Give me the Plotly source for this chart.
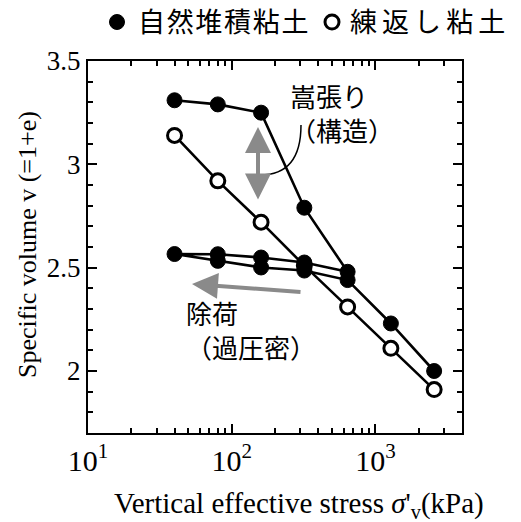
import plotly.graph_objects as go

# Consolidation test results: vertical effective stress (kPa) vs specific volume v = 1 + e
# Natural (undisturbed) clay: loading, unloading to 40 kPa, reloading and further loading
natural_stress = [40, 80, 160, 320, 640, 320, 160, 80, 40, 80, 160, 320, 640, 1280, 2560]
natural_v = [3.31, 3.29, 3.25, 2.79, 2.48, 2.525, 2.549, 2.565, 2.566,
             2.533, 2.501, 2.486, 2.44, 2.23, 2.00]

# Remoulded clay: loading only
remoulded_stress = [40, 80, 160, 320, 640, 1280, 2560]
remoulded_v = [3.14, 2.92, 2.72, 2.51, 2.31, 2.11, 1.91]

natural_name = "自然堆積粘土"
remoulded_name = "練返し粘土"

x_tickvals = [10, 100, 1000]
x_ticktext = ["10<sup>1</sup>", "10<sup>2</sup>", "10<sup>3</sup>"]
x_minor = [20, 30, 40, 50, 60, 70, 80, 90, 200, 300, 400, 500, 600, 700, 800, 900, 2000, 3000]
y_tickvals = [2, 2.5, 3, 3.5]
y_ticktext = ["2", "2.5", "3", "3.5"]

x_title = "Vertical effective stress <i>σ</i>'<sub>v</sub>(kPa)"
y_title = "Specific volume v (=1+e)"

SERIF = "Liberation Serif"
CJK = "Noto Sans CJK JP"
GRAY = "#8a8a8a"


def spaced(text, gap):
    """Loosen the character pitch of a key label."""
    return gap.join(text)


fig = go.Figure()

fig.add_trace(go.Scatter(
    x=remoulded_stress, y=remoulded_v, mode="lines+markers", name=remoulded_name,
    line=dict(color="black", width=2.6),
    marker=dict(symbol="circle", size=14, color="white", line=dict(color="black", width=3)),
    showlegend=False,
))
fig.add_trace(go.Scatter(
    x=natural_stress, y=natural_v, mode="lines+markers", name=natural_name,
    line=dict(color="black", width=2.6),
    marker=dict(symbol="circle", size=15, color="black", line=dict(color="black", width=1)),
    showlegend=False,
))

W, H = 521, 522
ML, MR, MT, MB = 88, 59, 61, 89
PW, PH = W - ML - MR, H - MT - MB


def px(xp):
    return (xp - ML) / PW


def py(yp):
    return (H - MB - yp) / PH


annotations = [
    dict(text="嵩張り<br>（構造）", x=px(288), y=py(112), xanchor="left",
         yanchor="middle", align="left", font=dict(family=CJK, size=26, color="black")),
    dict(text="除荷<br>（過圧密）", x=px(184), y=py(329), xanchor="left",
         yanchor="middle", align="left", font=dict(family=CJK, size=26, color="black")),
    # key labels along the top
    dict(text=spaced(natural_name, "\u200a"), x=px(136), y=py(20),
         xanchor="left", yanchor="middle", font=dict(family=CJK, size=27, color="black")),
    dict(text=spaced(remoulded_name, "\u200a\u200a\u200a"), x=px(348), y=py(20),
         xanchor="left", yanchor="middle", font=dict(family=CJK, size=27, color="black")),
]
for a in annotations:
    a.update(xref="paper", yref="paper", showarrow=False)

# axis titles
annotations.append(dict(
    text=x_title, x=px(299), y=py(505), xref="paper", yref="paper",
    xanchor="center", yanchor="middle", showarrow=False,
    font=dict(family=SERIF, size=29, color="black"),
))
annotations.append(dict(
    text=y_title, x=px(27), y=py(245), xref="paper", yref="paper",
    xanchor="center", yanchor="middle", showarrow=False, textangle=-90,
    font=dict(family=SERIF, size=26, color="black"),
))

# gray double arrow (structure) and unloading arrow
annotations.append(dict(
    x=px(258), y=py(127), xref="paper", yref="paper", text="", showarrow=True,
    ax=0, ay=74, arrowside="end+start", arrowhead=2, arrowsize=1.3,
    arrowwidth=4, arrowcolor=GRAY,
))
annotations.append(dict(
    x=px(192), y=py(284), xref="paper", yref="paper", text="", showarrow=True,
    ax=110, ay=8, arrowhead=2, arrowsize=1.3, arrowwidth=4, arrowcolor=GRAY,
))

shapes = [
    # leader line from the double arrow to its label
    dict(type="path", xref="paper", yref="paper",
         path=f"M {px(260)},{py(175)} Q {px(301)},{py(175)} {px(301)},{py(125)}",
         line=dict(color="black", width=1.5)),
    # key symbols
    dict(type="circle", xref="paper", yref="paper", xsizemode="pixel", ysizemode="pixel",
         xanchor=px(117), yanchor=py(22), x0=-7.5, x1=7.5, y0=-7.5, y1=7.5,
         fillcolor="black", line=dict(color="black", width=1)),
    dict(type="circle", xref="paper", yref="paper", xsizemode="pixel", ysizemode="pixel",
         xanchor=px(332), yanchor=py(22), x0=-7, x1=7, y0=-7, y1=7,
         fillcolor="white", line=dict(color="black", width=3)),
]

axis_common = dict(
    showline=True, linecolor="black", linewidth=2, mirror="ticks",
    ticks="inside", ticklen=9, tickwidth=1.5, tickcolor="black",
    showgrid=False, zeroline=False,
)

fig.update_layout(
    width=W, height=H,
    margin=dict(l=ML, r=MR, t=MT, b=MB),
    paper_bgcolor="white", plot_bgcolor="white",
    showlegend=False,
    xaxis=dict(
        type="log", range=[1, 3.602],
        tickmode="array", tickvals=x_tickvals, ticktext=x_ticktext,
        minor=dict(tickmode="array", tickvals=x_minor, ticks="inside", ticklen=5,
                   tickwidth=1.5, tickcolor="black"),
        tickfont=dict(family=SERIF, size=30, color="black"),
        **axis_common,
    ),
    yaxis=dict(
        range=[1.7, 3.5],
        tickmode="array", tickvals=y_tickvals, ticktext=y_ticktext,
        minor=dict(dtick=0.1, tick0=0, ticks="inside", ticklen=5,
                   tickwidth=1.5, tickcolor="black"),
        tickfont=dict(family=SERIF, size=27, color="black"),
        ticklabelstandoff=0,
        **axis_common,
    ),
    annotations=annotations,
    shapes=shapes,
)

fig.write_html("out.html")
